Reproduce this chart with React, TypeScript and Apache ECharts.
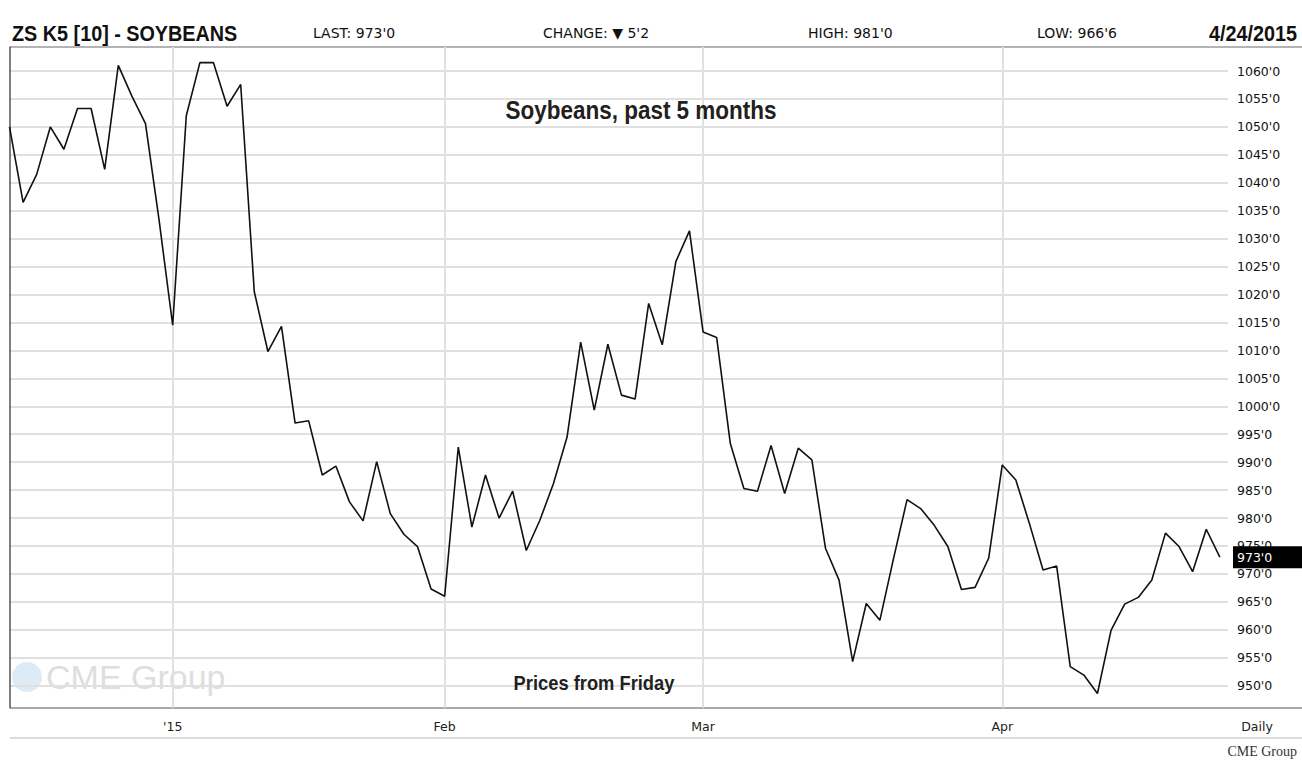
import React, { useEffect, useRef } from "react";
import * as echarts from "echarts";

// Daily settlement prices (cents/bu), trading days Dec 15 2014 .. Apr 24 2015
const prices: number[] = [
  1050, 1036.5, 1041.5, 1050, 1046, 1053.3, 1053.3, 1042.4, 1061, 1055.5,
  1050.6, 1033.3, 1014.5, 1052, 1061.5, 1061.5, 1053.7, 1057.6, 1020.5, 1009.8,
  1014.3, 997, 997.4, 987.7, 989.3, 982.9, 979.5, 990.1, 980.8, 977.1,
  974.9, 967.3, 966, 992.7, 978.4, 987.7, 980, 984.8, 974.2, 979.6,
  986.2, 994.5, 1011.5, 999.3, 1011.1, 1002, 1001.3, 1018.4, 1011, 1025.9,
  1031.4, 1013.3, 1012.3, 993.4, 985.3, 984.8, 993, 984.4, 992.5, 990.4,
  974.6, 968.9, 954.3, 964.7, 961.7, 972.7, 983.3, 981.7, 978.7, 974.9,
  967.2, 967.6, 972.8, 989.5, 986.8, 979, 970.7, 971.4, 953.4, 951.9,
  948.6, 959.9, 964.6, 965.8, 968.9, 977.3, 974.9, 970.4, 978, 973,
];

// Month boundaries (trading-day index) and their labels
const monthStarts: number[] = [12, 32, 51, 73];
const monthLabels: string[] = ["'15", "Feb", "Mar", "Apr"];

// Price axis ticks
const priceTicks: number[] = [950, 955, 960, 965, 970, 975, 980, 985, 990, 995, 1000, 1005, 1010, 1015, 1020, 1025, 1030, 1035, 1040, 1045, 1050, 1055, 1060];

const lastPrice = 973;

const headerItems: { text: string; x: number; bold?: boolean; align?: string }[] = [
  { text: "ZS K5 [10] - SOYBEANS", x: 12, bold: true },
  { text: "LAST: 973'0", x: 313 },
  { text: "CHANGE: \u25BC 5'2", x: 543 },
  { text: "HIGH: 981'0", x: 808 },
  { text: "LOW: 966'6", x: 1037 },
  { text: "4/24/2015", x: 1297, bold: true, align: "right" },
];

const SANS = "'DejaVu Sans', sans-serif";
const BOLD = "'Liberation Sans', Arial, sans-serif";

export default function App() {
  const ref = useRef<HTMLDivElement>(null);

  useEffect(() => {
    if (!ref.current) return;
    const chart = echarts.init(ref.current, undefined, { renderer: "svg" });
    const data = prices.map((v, i) => [i, v]);

    const graphics: any[] = [];
    headerItems.forEach((h) => {
      graphics.push({
        type: "text",
        x: h.x,
        y: 33,
        scaleX: h.bold ? 0.9 : 1,
        style: {
          text: h.text,
          fill: "#111",
          fontFamily: h.bold ? BOLD : SANS,
          fontWeight: h.bold ? "bold" : "normal",
          fontSize: h.bold ? 22 : 14,
          textAlign: h.align || "left",
          textVerticalAlign: "middle",
        },
      });
    });
    // header rule
    graphics.push({ type: "line", shape: { x1: 10, y1: 47, x2: 1302, y2: 47 }, style: { stroke: "#b4b4b4", lineWidth: 2 } });
    // bottom axis rule and lower rule
    graphics.push({ type: "line", shape: { x1: 10, y1: 708, x2: 1302, y2: 708 }, style: { stroke: "#a8a8a8", lineWidth: 2 } });
    graphics.push({ type: "line", shape: { x1: 10, y1: 738, x2: 1302, y2: 738 }, style: { stroke: "#cfcfcf", lineWidth: 1.5 } });
    // Daily label
    graphics.push({ type: "text", x: 1257, y: 726, style: { text: "Daily", fill: "#222", fontFamily: SANS, fontSize: 12.5, textAlign: "center", textVerticalAlign: "middle" } });
    // CME Group credit
    graphics.push({ type: "text", x: 1297, y: 751, style: { text: "CME Group", fill: "#333", fontFamily: "'Liberation Serif', serif", fontSize: 14, textAlign: "right", textVerticalAlign: "middle" } });
    // Titles
    graphics.push({ type: "text", z: 100, x: 641, y: 110, scaleX: 0.9, style: { text: "Soybeans, past 5 months", fill: "#231f20", fontFamily: BOLD, fontWeight: "bold", fontSize: 25, textAlign: "center", textVerticalAlign: "middle" } });
    graphics.push({ type: "text", z: 100, x: 594, y: 683, scaleX: 0.94, style: { text: "Prices from Friday", fill: "#231f20", fontFamily: BOLD, fontWeight: "bold", fontSize: 19.5, textAlign: "center", textVerticalAlign: "middle" } });
    // Watermark
    graphics.push({ type: "circle", z: -5, shape: { cx: 27, cy: 677, r: 15 }, style: { fill: "#dcebf6" } });
    graphics.push({ type: "text", z: -5, x: 46, y: 677, style: { text: "CME Group", fill: "#dedede", fontFamily: "'Liberation Sans', sans-serif", fontSize: 34, textAlign: "left", textVerticalAlign: "middle" } });

    chart.setOption({
      animation: false,
      backgroundColor: "#ffffff",
      grid: { left: 9.5, right: 74, top: 47, bottom: 58.3, containLabel: false },
      xAxis: {
        type: "value",
        min: 0,
        max: 89.6,
        axisLine: { show: false },
        axisTick: { show: false, customValues: monthStarts },
        axisLabel: {
          customValues: monthStarts,
          formatter: (v: number) => {
            const k = monthStarts.indexOf(Math.round(v));
            return k >= 0 ? monthLabels[k] : "";
          },
          color: "#222",
          fontFamily: SANS,
          fontSize: 12.5,
          margin: 12,
        },
        splitLine: { show: true, lineStyle: { color: "#e0e0e0", width: 2 } },
      },
      yAxis: {
        type: "value",
        position: "right",
        min: 946.06,
        max: 1064.3,
        axisLine: { show: true, lineStyle: { color: "#555", width: 1.5 } },
        axisTick: { show: false, customValues: priceTicks },
        axisLabel: {
          customValues: priceTicks,
          formatter: (v: number) => `${v}'0`,
          color: "#111",
          fontFamily: SANS,
          fontSize: 12.5,
          margin: 9,
        },
        splitLine: { show: true, lineStyle: { color: "#e0e0e0", width: 2 } },
      },
      series: [
        {
          type: "line",
          data,
          clip: false,
          showSymbol: false,
          symbol: "none",
          lineStyle: { color: "#111", width: 1.6 },
          z: 5,
          markLine: {
            silent: true,
            symbol: "none",
            z: 10,
            data: [{ yAxis: lastPrice }],
            lineStyle: { color: "rgba(0,0,0,0)", width: 0, type: "solid" },
            label: {
              show: true,
              position: "end",
              distance: 5,
              formatter: (p: any) => `${p.value}'0`,
              color: "#fff",
              backgroundColor: "#000",
              padding: [5, 30, 4, 4],
              fontFamily: SANS,
              fontSize: 12.5,
            },
          },
        },
      ],
      graphic: graphics,
    });

    return () => chart.dispose();
  }, []);

  return (
    <div
      ref={ref}
      style={{ position: "absolute", left: 0, top: 0, width: 1302, height: 766 }}
    />
  );
}
